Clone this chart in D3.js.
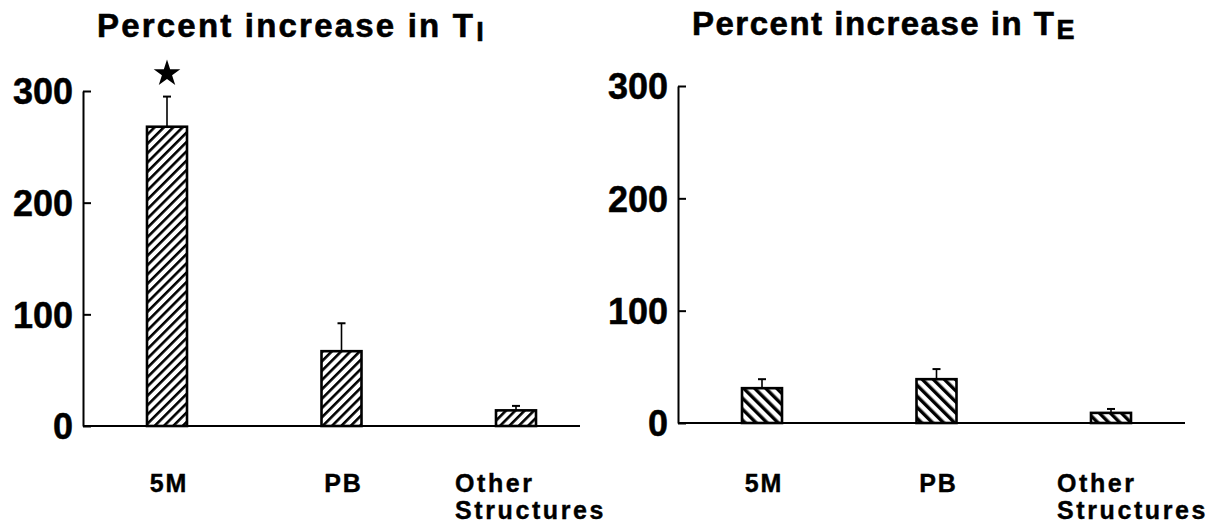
<!DOCTYPE html>
<html>
<head>
<meta charset="utf-8">
<script src="https://cdn.jsdelivr.net/npm/d3@7"></script>
<style>
  html, body { margin: 0; padding: 0; background: #fff; }
  svg { display: block; font-family: "Liberation Sans", Arial, Helvetica, sans-serif; font-weight: bold; }
</style>
</head>
<body>
<svg id="chart" width="1225" height="527"></svg>
<script>
// ---- data ----
const categories = ["5M", "PB", "Other Structures"];
const categoryLabels = [["5M"], ["PB"], ["Other", "Structures"]];
const yTicks = [0, 100, 200, 300];
const tiValues = [268, 67, 14];
const tiErrors = [27, 25, 4];
const teValues = [31, 39, 9];
const teErrors = [8, 9, 3.5];
const tiSignificant = [true, false, false];
const teSignificant = [false, false, false];
const titleMain = "Percent increase in T";
const titleSubs = ["I", "E"];

const svg = d3.select("#chart");
const defs = svg.append("defs");

function makeHatch(id, size, thick, angle) {
  const p = defs.append("pattern")
    .attr("id", id)
    .attr("patternUnits", "userSpaceOnUse")
    .attr("width", size).attr("height", size)
    .attr("patternTransform", `rotate(${angle})`);
  p.append("rect").attr("width", size).attr("height", size).attr("fill", "#fff");
  p.append("rect").attr("x", 0).attr("y", 0).attr("width", thick).attr("height", size).attr("fill", "#000");
}
makeHatch("hatchL", 6.6, 2.6, 45);
makeHatch("hatchR", 7.8, 3.4, -45);

const panels = [
  { axisX: 83, y0: 426, y300: 91, xEnd: 580, values: tiValues, errors: tiErrors, sig: tiSignificant,
    hatch: "hatchL", titleX: 97, titleY: 37, titleLs: 2.2, sub: titleSubs[0], multiOffset: -61 },
  { axisX: 678, y0: 423, y300: 86, xEnd: 1185, values: teValues, errors: teErrors, sig: teSignificant,
    hatch: "hatchR", titleX: 692, titleY: 35, titleLs: 1.5, sub: titleSubs[1], multiOffset: -54 }
];

panels.forEach(p => {
  const g = svg.append("g");
  const y = d3.scaleLinear().domain([0, 300]).range([p.y0, p.y300]);
  const x = d3.scalePoint().domain(categories).range([p.axisX + 84, p.axisX + 433]);
  const bw = 40;

  // title
  const t = g.append("text")
    .attr("x", p.titleX).attr("y", p.titleY)
    .attr("font-size", 33).attr("letter-spacing", p.titleLs)
    .attr("fill", "#000").attr("stroke", "#000").attr("stroke-width", 0.6);
  t.append("tspan").text(titleMain);
  t.append("tspan").attr("font-size", 27).attr("dy", 4).attr("dx", 1).text(p.sub);

  // y axis
  const ax = d3.axisLeft(y).tickValues(yTicks).tickSize(-8).tickSizeOuter(0).tickPadding(10)
    .tickFormat(d3.format("d"));
  const axg = g.append("g").attr("transform", `translate(${p.axisX},0)`).call(ax);
  axg.select(".domain").attr("stroke", "#000").attr("stroke-width", 2);
  axg.selectAll(".tick line").attr("stroke", "#000").attr("stroke-width", 2);
  axg.selectAll(".tick text")
    .attr("font-size", 36).attr("font-family", "'Liberation Sans', Arial, sans-serif")
    .attr("font-weight", "bold").attr("fill", "#000").attr("dy", "0.36em")
    .attr("stroke", "#000").attr("stroke-width", 0.5);

  // baseline
  g.append("line")
    .attr("x1", p.axisX).attr("x2", p.xEnd)
    .attr("y1", y(0)).attr("y2", y(0))
    .attr("stroke", "#000").attr("stroke-width", 2);

  // error bars
  categories.forEach((c, i) => {
    const cx = x(c);
    const top = y(p.values[i] + p.errors[i]);
    g.append("line").attr("x1", cx).attr("x2", cx)
      .attr("y1", y(p.values[i])).attr("y2", top)
      .attr("stroke", "#000").attr("stroke-width", 1.6);
    g.append("line").attr("x1", cx - 4).attr("x2", cx + 4)
      .attr("y1", top).attr("y2", top)
      .attr("stroke", "#000").attr("stroke-width", 2);
    if (p.sig[i]) {
      g.append("path")
        .attr("d", d3.symbol().type(d3.symbolStar).size(220)())
        .attr("transform", `translate(${cx},${top - 23})`)
        .attr("fill", "#000");
    }
  });

  // bars
  g.selectAll("rect.bar").data(categories).join("rect")
    .attr("class", "bar")
    .attr("x", d => x(d) - bw / 2)
    .attr("y", (d, i) => y(p.values[i]))
    .attr("width", bw)
    .attr("height", (d, i) => y(0) - y(p.values[i]))
    .attr("fill", `url(#${p.hatch})`)
    .attr("stroke", "#000").attr("stroke-width", 2.6);

  // category labels
  categories.forEach((c, i) => {
    const lines = categoryLabels[i];
    const multi = lines.length > 1;
    const txt = g.append("text")
      .attr("font-size", 25).attr("letter-spacing", multi ? 2.6 : 2)
      .attr("text-anchor", multi ? "start" : "middle")
      .attr("fill", "#000").attr("stroke", "#000").attr("stroke-width", 0.4);
    lines.forEach((l, k) => {
      txt.append("tspan")
        .attr("x", multi ? x(c) + p.multiOffset : x(c) + 2)
        .attr("y", 492 + k * 27)
        .text(l);
    });
  });
});
</script>
</body>
</html>
